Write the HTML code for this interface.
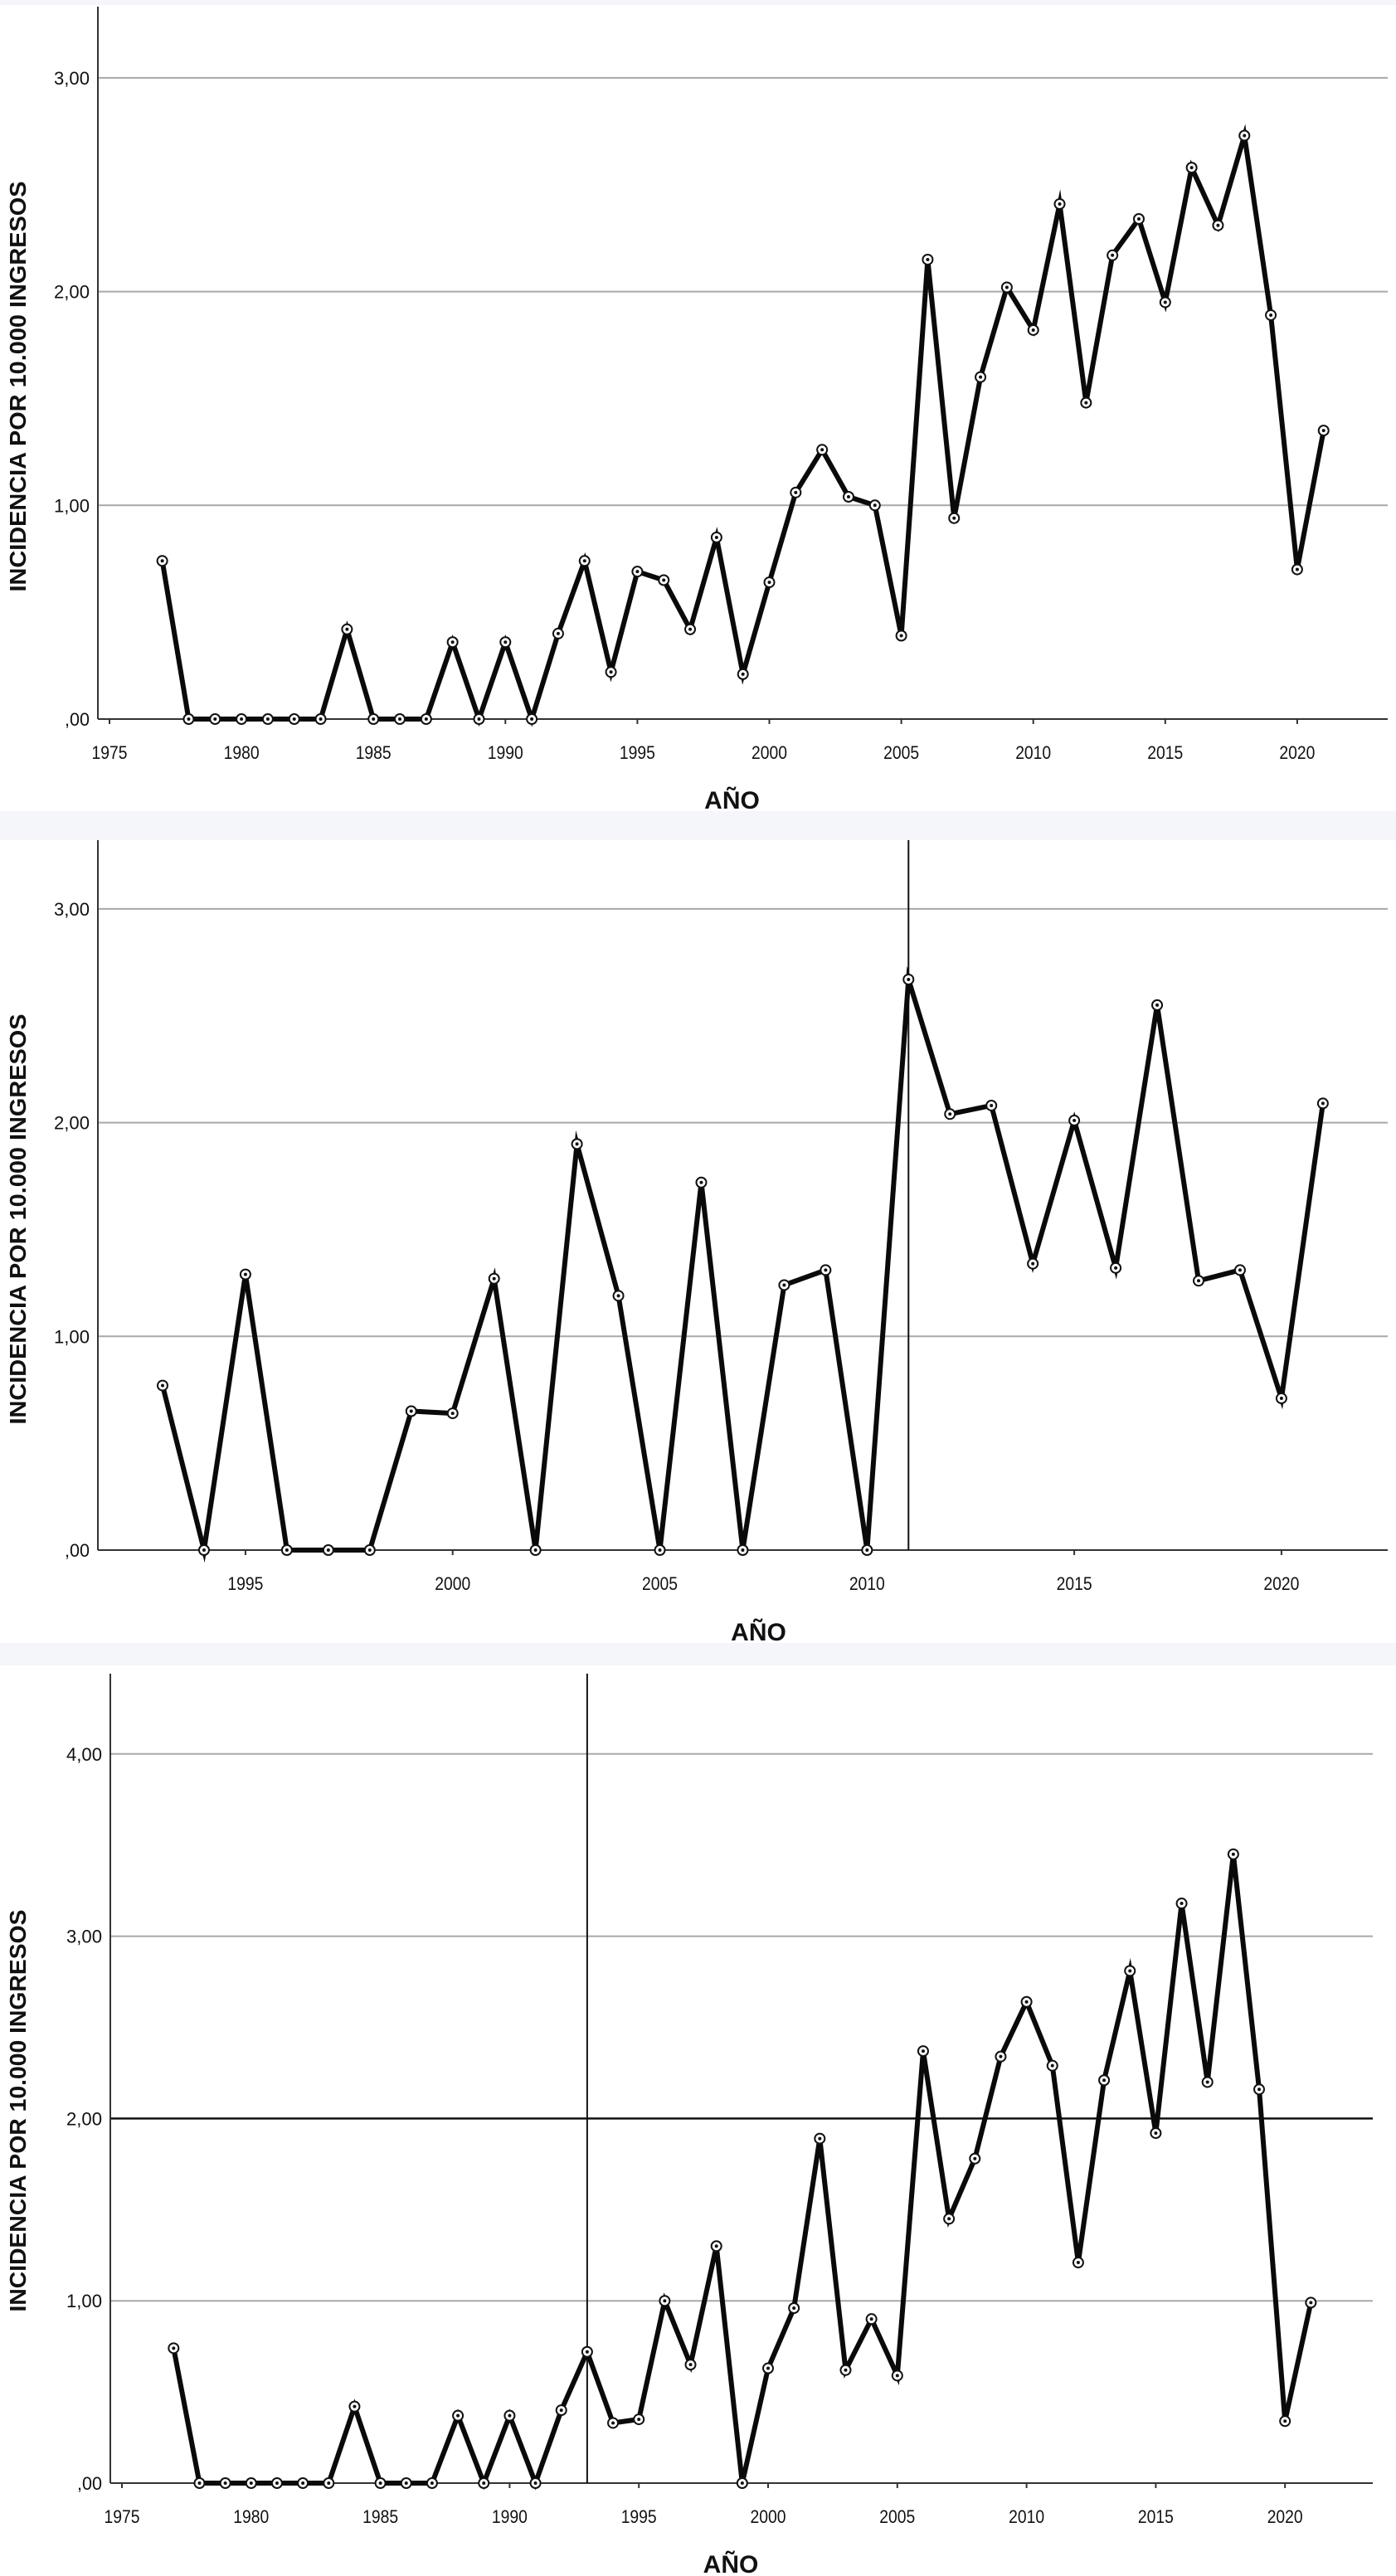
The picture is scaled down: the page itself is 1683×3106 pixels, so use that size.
<!DOCTYPE html>
<html><head><meta charset="utf-8"><style>
html,body{margin:0;padding:0;background:#f4f6fa;}
svg{display:block;}
text{font-family:"Liberation Sans",Arial,sans-serif;fill:#111;}
</style></head><body>
<svg id="root" width="1683" height="3106" viewBox="0 0 1683 3106"></svg>
<script>
const years1 = [1977,1978,1979,1980,1981,1982,1983,1984,1985,1986,1987,1988,1989,1990,1991,1992,1993,1994,1995,1996,1997,1998,1999,2000,2001,2002,2003,2004,2005,2006,2007,2008,2009,2010,2011,2012,2013,2014,2015,2016,2017,2018,2019,2020,2021];
const values1 = [0.74,0,0,0,0,0,0,0.42,0,0,0,0.36,0,0.36,0,0.40,0.74,0.22,0.69,0.65,0.42,0.85,0.21,0.64,1.06,1.26,1.04,1.00,0.39,2.15,0.94,1.60,2.02,1.82,2.41,1.48,2.17,2.34,1.95,2.58,2.31,2.73,1.89,0.70,1.35];
const years2 = [1993,1994,1995,1996,1997,1998,1999,2000,2001,2002,2003,2004,2005,2006,2007,2008,2009,2010,2011,2012,2013,2014,2015,2016,2017,2018,2019,2020,2021];
const values2 = [0.77,0,1.29,0,0,0,0.65,0.64,1.27,0,1.90,1.19,0,1.72,0,1.24,1.31,0,2.67,2.04,2.08,1.34,2.01,1.32,2.55,1.26,1.31,0.71,2.09];
const years3 = years1;
const values3 = [0.74,0,0,0,0,0,0,0.42,0,0,0,0.37,0,0.37,0,0.40,0.72,0.33,0.35,1.00,0.65,1.30,0,0.63,0.96,1.89,0.62,0.90,0.59,2.37,1.45,1.78,2.34,2.64,2.29,1.21,2.21,2.81,1.92,3.18,2.20,3.45,2.16,0.34,0.99];
const xTicks1 = [1975,1980,1985,1990,1995,2000,2005,2010,2015,2020];
const xTicks2 = [1995,2000,2005,2010,2015,2020];
const yTicks1 = [0,1,2,3];
const yTicks3 = [0,1,2,3,4];
const yLabels1 = [",00","1,00","2,00","3,00"];
const yLabels3 = [",00","1,00","2,00","3,00","4,00"];
const refYear2 = 2011;
const refYear3 = 1993;
const refValue3 = 2;

const NS="http://www.w3.org/2000/svg";
const root=document.getElementById('root');
function mk(tag,attrs,parent){const e=document.createElementNS(NS,tag);for(const k in attrs)e.setAttribute(k,attrs[k]);(parent||root).appendChild(e);return e;}

function chart(o){
  const g=mk('g',{});
  
  
  const bg=mk('rect',{x:0,y:o.top,width:1683,height:o.bottom-o.top,fill:'#fff'},g);
  
  
  const X=v=>o.x0+(v-o.xv0)*o.xs;
  const Y=v=>o.y0-v*o.ys;
  // gridlines
  o.yTicks.forEach((t,i)=>{
    if(t>0){
      const isRef=(o.refValue!==undefined&&t===o.refValue);
      const l=mk('line',{x1:o.axisX,x2:o.right,y1:Y(t),y2:Y(t),stroke:isRef?'#111':'#a8a8a8','stroke-width':isRef?2.5:2},g);
      
      
    }
    const tx=mk('text',{x:o.axisX-10,y:Y(t)+8,'text-anchor':'end','font-size':22,textLength:t===0?30:43,lengthAdjust:'spacingAndGlyphs'},g);
    tx.textContent=o.yLabels[i];
    
    
  });
  // axes
  const ya=mk('line',{x1:o.axisX,x2:o.axisX,y1:o.axisTop,y2:o.y0,stroke:'#333','stroke-width':2},g);
  
  
  const xa=mk('line',{x1:o.axisX,x2:o.right,y1:o.y0,y2:o.y0,stroke:'#333','stroke-width':2},g);
  
  
  o.xTicks.forEach(t=>{
    const tk=mk('line',{x1:X(t),x2:X(t),y1:o.y0,y2:o.y0+6,stroke:'#333','stroke-width':2},g);
    
    
    const tx=mk('text',{x:X(t),y:o.y0+48,'text-anchor':'middle','font-size':22,textLength:43,lengthAdjust:'spacingAndGlyphs'},g);
    tx.textContent=t;
    
    
  });
  if(o.refYear!==undefined){
    const rl=mk('line',{x1:X(o.refYear),x2:X(o.refYear),y1:o.axisTop,y2:o.y0,stroke:'#111','stroke-width':2},g);
    
    
  }
  // series
  const pts=o.years.map((yr,i)=>X(yr)+','+Y(o.values[i])).join(' ');
  const pl=mk('polyline',{points:pts,fill:'none',stroke:'#0a0a0a','stroke-width':6,'stroke-linejoin':'miter','stroke-miterlimit':6},g);
  
  
  o.years.forEach((yr,i)=>{
    const c=mk('circle',{cx:X(yr),cy:Y(o.values[i]),r:6,fill:'#fff',stroke:'#111','stroke-width':2},g);
    
    
    const d=mk('circle',{cx:X(yr),cy:Y(o.values[i]),r:2,fill:'#111'},g);
  });
  // titles
  const xt=mk('text',{x:(o.x0+o.right)/2-20,y:o.titleY,'text-anchor':'middle','font-size':30,'font-weight':'bold'},g);
  xt.textContent='AÑO';
  
  
  const yt=mk('text',{x:0,y:0,'text-anchor':'middle','font-size':28,'font-weight':'bold',textLength:o.ytLen,lengthAdjust:'spacingAndGlyphs',transform:`translate(31,${o.ytMid}) rotate(-90)`},g);
  yt.textContent='INCIDENCIA POR 10.000 INGRESOS';
  
  
}

chart({name:'chart-1',top:6,bottom:978,axisX:118,axisTop:8,right:1673,x0:132,xv0:1975,xs:31.82,y0:867,ys:257.7,
  years:years1,values:values1,xTicks:xTicks1,yTicks:yTicks1,yLabels:yLabels1,titleY:975,ytMid:466,ytLen:495});
chart({name:'chart-2',top:1013,bottom:1981,axisX:118,axisTop:1013,right:1673,x0:196,xv0:1993,xs:49.96,y0:1869,ys:257.7,
  years:years2,values:values2,xTicks:xTicks2,yTicks:yTicks1,yLabels:yLabels1,refYear:refYear2,titleY:1978,ytMid:1470,ytLen:495});
chart({name:'chart-3',top:2008,bottom:3106,axisX:133,axisTop:2018,right:1655,x0:147,xv0:1975,xs:31.16,y0:2994,ys:219.8,
  years:years3,values:values3,xTicks:xTicks1,yTicks:yTicks3,yLabels:yLabels3,refYear:refYear3,refValue:refValue3,titleY:3102,ytMid:2545,ytLen:485});
</script>
</body></html>
